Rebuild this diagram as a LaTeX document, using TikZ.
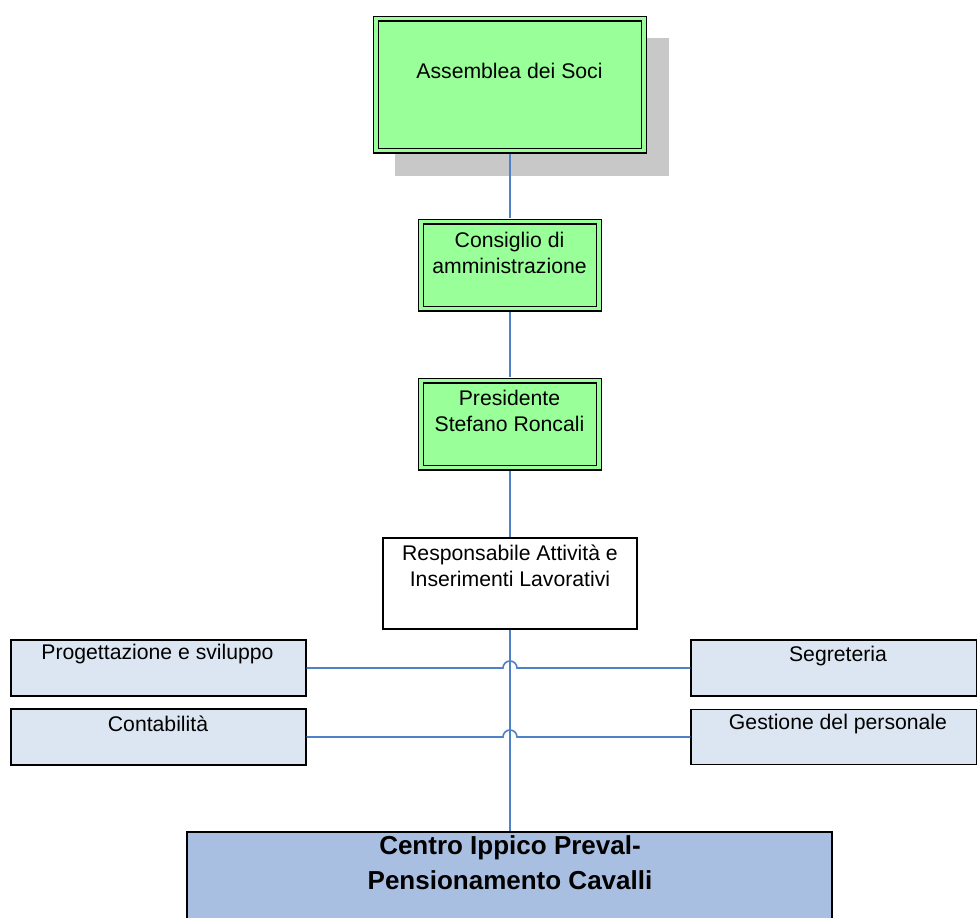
\documentclass[tikz,border=0pt]{standalone}
\usepackage{fontspec}
\setmainfont{Liberation Sans}
\usetikzlibrary{calc}
\definecolor{boxgreen}{HTML}{99FF99}
\definecolor{shadowgray}{HTML}{C8C8C8}
\definecolor{lightblue}{HTML}{DCE6F2}
\definecolor{midblue}{HTML}{A9BFE1}
\definecolor{connblue}{HTML}{4F81C7}
\begin{document}
\begin{tikzpicture}[x=1pt,y=-1pt,
  greenbox/.style={draw=black, line width=1.2pt, double=boxgreen, double distance=3.6pt, fill=boxgreen, inner sep=0pt},
  whitebox/.style={draw=black, line width=1.1pt, fill=white, inner sep=0pt},
  bluebox/.style={draw=black, line width=1.1pt, fill=lightblue, inner sep=0pt, minimum height=56pt},
  bigbox/.style={draw=black, line width=1.1pt, fill=midblue, inner sep=0pt},
  txt/.style={font=\fontsize{21.2}{25.5}\selectfont, align=center, inner sep=0pt},
  bigtxt/.style={font=\fontsize{26}{35}\selectfont\bfseries, align=center, inner sep=0pt},
  conn/.style={draw=connblue, line width=1.6pt}]
\useasboundingbox (0,0) rectangle (977,918);
\clip (0,0) rectangle (977,918);
\fill[white] (0,0) rectangle (977,918);
% shadow
\fill[shadowgray] (395,38) rectangle (669,176);
% boxes
\node[greenbox, minimum width=267.5pt, minimum height=132pt] (A) at (510,84.5) {};
\node[greenbox, minimum width=178pt, minimum height=87pt] (C) at (510,265) {};
\node[greenbox, minimum width=178pt, minimum height=87pt] (P) at (510,424) {};
\node[whitebox, minimum width=254pt, minimum height=91pt] (R) at (510,583.5) {};
\node[bluebox, minimum width=295pt] (PS) at (158.5,668) {};
\node[bluebox, minimum width=295pt] (CO) at (158.5,737) {};
\node[bluebox, minimum width=286pt] (SE) at (834,668) {};
\node[bluebox, minimum width=286pt, minimum height=55pt] (GP) at (834,737) {};
\node[bigbox, minimum width=645pt, minimum height=110pt] (CI) at (509.5,887) {};
% texts
\node[txt] (tA) at (509.5,71) {Assemblea dei Soci};
\node[txt] (tC) at (509.5,253) {Consiglio di\\amministrazione};
\node[txt] (tP) at (509.5,411) {Presidente\\Stefano Roncali};
\node[txt] (tR) at (510,566) {Responsabile Attività e\\Inserimenti Lavorativi};
\node[txt] (tPS) at (157.5,654) {Progettazione e sviluppo};
\node[txt] (tCO) at (158,724) {Contabilità};
\node[txt] (tSE) at (838,656) {Segreteria};
\node[txt] (tGP) at (838,724) {Gestione del personale};
\node[bigtxt] (tCI) at (510,862.5) {Centro Ippico Preval-\\Pensionamento Cavalli};
% connectors
\draw[conn, shorten <=3pt, shorten >=3pt] (A.south) -- (C.north);
\draw[conn, shorten <=3pt, shorten >=3pt] (C.south) -- (P.north);
\draw[conn, shorten <=3pt] (P.south) -- (R.north);
\draw[conn] (R.south) -- (R.south |- CI.north);
\draw[conn] (PS.east) -- ($(PS.east -| R.south)+(-7,0)$) arc[start angle=180, end angle=360, radius=7] -- (SE.west);
\draw[conn] (CO.east) -- ($(CO.east -| R.south)+(-7,0)$) arc[start angle=180, end angle=360, radius=7] -- (GP.west);
\end{tikzpicture}
\end{document}
